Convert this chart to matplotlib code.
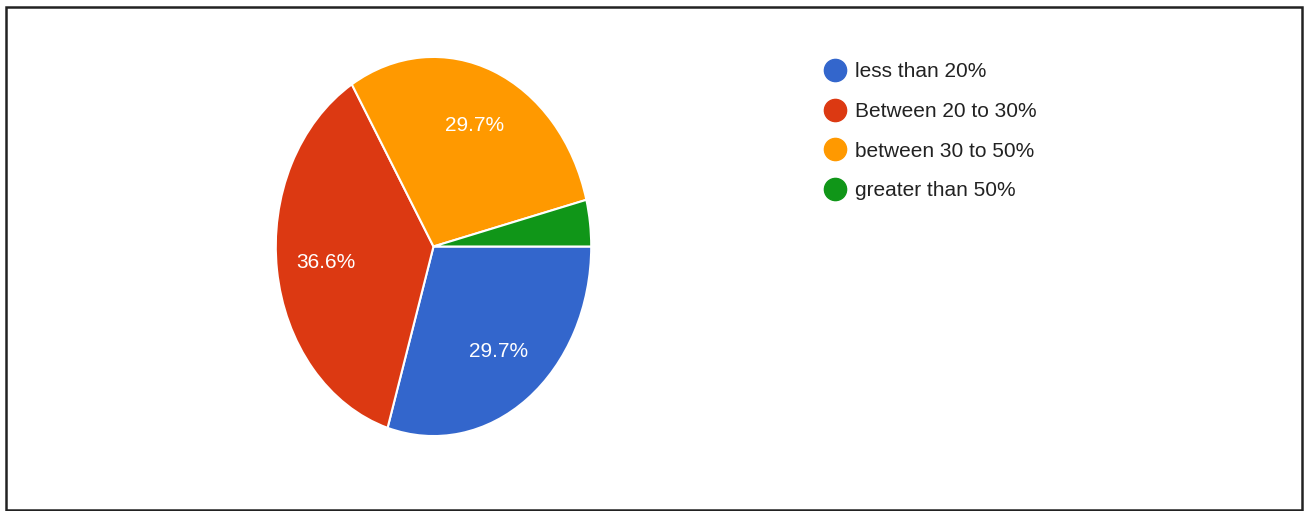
import matplotlib.pyplot as plt
from matplotlib.lines import Line2D
from matplotlib.patches import Rectangle

plt.rcParams['font.family'] = ['Liberation Sans', 'DejaVu Sans']

labels = ["less than 20%", "Between 20 to 30%", "between 30 to 50%", "greater than 50%"]
counts = [30, 37, 30, 4]
colors = ["#3366CC", "#DC3912", "#FF9900", "#109618"]

fig = plt.figure(figsize=(13.08, 5.11), dpi=100)

# pie axes (stretched a bit vertically like the reference)
ax = fig.add_axes([275/1308, 1 - 437/511, 317/1308, 381/511])
wedges, texts, autotexts = ax.pie(
    counts, colors=colors, startangle=0, counterclock=False,
    autopct=lambda p: "%.1f%%" % p if p > 5 else "",
    pctdistance=0.69,
    wedgeprops=dict(edgecolor="white", linewidth=1.5),
    textprops=dict(color="white", fontsize=15),
)
ax.set_aspect('auto')
ax.set_xlim(-1.005, 1.005)
ax.set_ylim(-1.005, 1.005)

handles = [Line2D([], [], marker='o', linestyle='none', markersize=16,
                  markerfacecolor=c, markeredgecolor=c) for c in colors]
fig.legend(handles, labels, loc='upper left', bbox_to_anchor=(825/1308, 1 - 62/511),
           frameon=False, fontsize=15, labelspacing=1.0, handletextpad=0.43,
           handlelength=1.0, labelcolor="#222222", borderaxespad=0, borderpad=0)

# outer frame
fig.patches.append(Rectangle((6/1308, 1/511), 1296/1308, 503/511, transform=fig.transFigure,
                             fill=False, edgecolor="#222222", linewidth=1.8))

fig.savefig("out.png", dpi=100)
